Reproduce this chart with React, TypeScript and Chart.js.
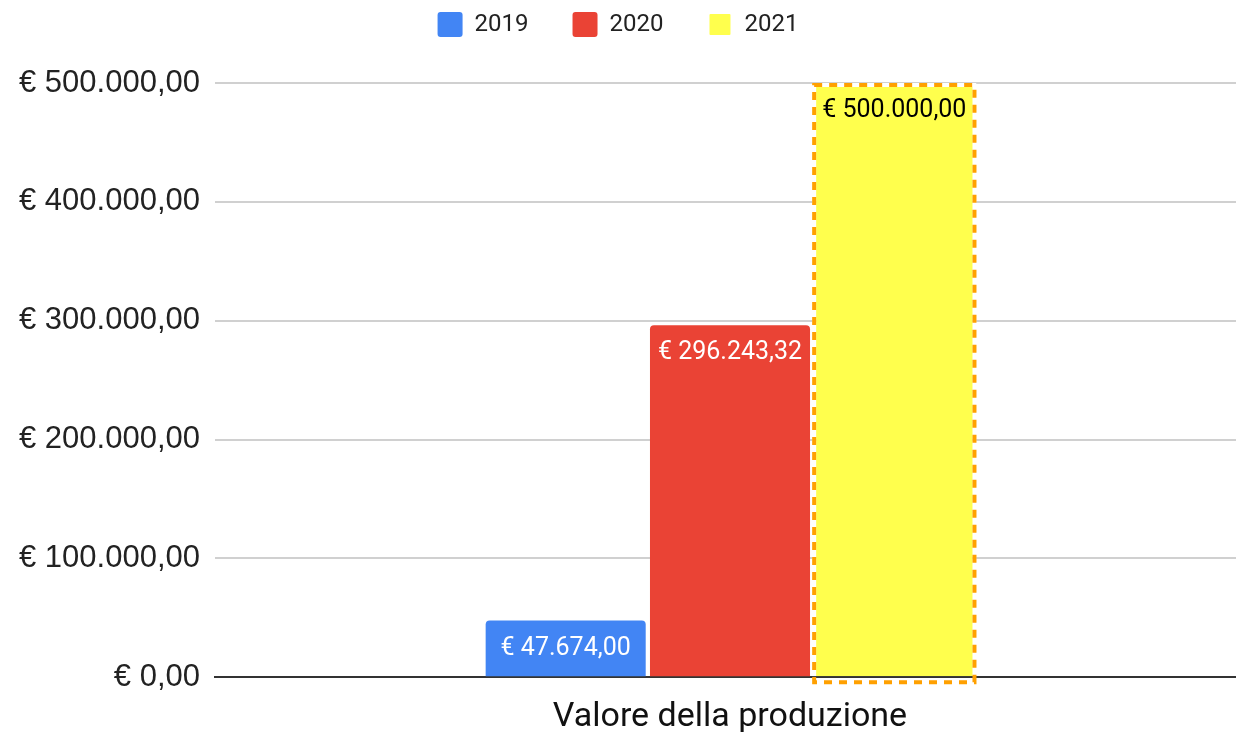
import React, { useEffect, useRef } from "react";
import { Chart, registerables } from "chart.js";

Chart.register(...registerables);

const categories = ["Valore della produzione"];
const seriesNames = ["2019", "2020", "2021"];
const values2019 = [47674];
const values2020 = [296243.32];
const values2021 = [500000];
const yTicks = [0, 100000, 200000, 300000, 400000, 500000];

const fmtEuro = (v: number) => {
  const fixed = Math.abs(v).toFixed(2);
  const [intPart, dec] = fixed.split(".");
  const withDots = intPart.replace(/\B(?=(\d{3})+(?!\d))/g, ".");
  return "€ " + (v < 0 ? "-" : "") + withDots + "," + dec;
};

const labelColors = ["#ffffff", "#ffffff", "#000000"];

// extends the category axis slightly past the right edge (as in the reference)
const shiftPlugin = {
  id: "xShift",
  afterLayout(chart: any) {
    const x = chart.scales.x;
    x.right = x.right + 9;
    x.width = x.right - x.left;
    x.configure();
  },
};

const valueLabelPlugin = {
  id: "valueLabels",
  afterDatasetsDraw(chart: any) {
    const ctx = chart.ctx;
    const meta2 = chart.getDatasetMeta(2);
    meta2.data.forEach((el: any) => {
      const { x, y, base, width } = el.getProps(["x", "y", "base", "width"], true);
      ctx.save();
      ctx.strokeStyle = "#FFA000";
      ctx.lineWidth = 4;
      ctx.setLineDash([8, 7]);
      ctx.strokeRect(x - width / 2 + 2, y + 2, width - 4, base - y + 4);
      ctx.restore();
    });
    chart.data.datasets.forEach((ds: any, i: number) => {
      const meta = chart.getDatasetMeta(i);
      meta.data.forEach((el: any, j: number) => {
        const { x, y } = el.getProps(["x", "y"], true);
        ctx.save();
        ctx.font = "25px Roboto";
        ctx.fillStyle = labelColors[i];
        ctx.textAlign = "center";
        ctx.textBaseline = "middle";
        ctx.fillText(fmtEuro(ds.data[j]), x, y + 28);
        ctx.restore();
      });
    });
  },
};

export default function App() {
  const ref = useRef<HTMLCanvasElement>(null);
  useEffect(() => {
    document.body.style.margin = "0";
    const chart = new Chart(ref.current!, {
      type: "bar",
      data: {
        labels: categories,
        datasets: [
          {
            label: seriesNames[0],
            data: values2019,
            backgroundColor: "#4285F4",
            borderRadius: { topLeft: 4, topRight: 4, bottomLeft: 0, bottomRight: 0 },
            borderSkipped: false,
            barPercentage: 0.974,
          },
          {
            label: seriesNames[1],
            data: values2020,
            backgroundColor: "#EA4335",
            borderRadius: { topLeft: 4, topRight: 4, bottomLeft: 0, bottomRight: 0 },
            borderSkipped: false,
            barPercentage: 0.974,
          },
          {
            label: seriesNames[2],
            data: values2021,
            backgroundColor: "#FFFF4D",
            borderColor: "#FFFFFF",
            borderWidth: 4,
            borderSkipped: "bottom",
            barPercentage: 1.0,
          },
        ],
      },
      options: {
        animation: false,
        responsive: false,
        maintainAspectRatio: false,
        layout: { padding: { left: 0, right: 0, top: -32, bottom: -26 } },
        datasets: { bar: { categoryPercentage: 0.4786 } },
        plugins: {
          tooltip: { enabled: false },
          title: {
            display: true,
            text: " ",
            font: { size: 10 },
            padding: { top: 0, bottom: 24 },
          },
          legend: {
            position: "top",
            weight: 3000,
            labels: {
              font: { family: "Roboto", size: 24 },
              color: "#222",
              boxWidth: 25,
              boxHeight: 25,
              padding: 44,
              useBorderRadius: true,
              borderRadius: 3,
            },
          },
        },
        scales: {
          x: {
            grid: { display: false, drawTicks: false },
            border: { display: true, color: "#333", width: 2 },
            ticks: {
              font: { family: "Roboto", size: 34 },
              color: "#111",
              padding: 20,
            },
          },
          y: {
            min: 0,
            max: 500000,
            afterBuildTicks: (scale: any) => {
              scale.ticks = yTicks.map((v) => ({ value: v }));
            },
            afterFit: (scale: any) => {
              scale.width = 215;
            },
            grid: {
              drawTicks: false,
              color: (c: any) => (c.tick && c.tick.value === 0 ? "rgba(0,0,0,0)" : "#d0d0d0"),
              lineWidth: 2,
            },
            border: { display: false },
            ticks: {
              font: { family: "'Liberation Sans', Arial", size: 31 },
              color: "#222",
              padding: 15,
              callback: (v: any) => fmtEuro(Number(v)),
            },
          },
        },
      },
      plugins: [shiftPlugin, valueLabelPlugin],
    });
    return () => chart.destroy();
  }, []);
  return (
    <div style={{ position: "fixed", left: 0, top: 0, width: 1236, height: 732, background: "#fff" }}>
      <canvas ref={ref} width={1236} height={732} />
    </div>
  );
}
